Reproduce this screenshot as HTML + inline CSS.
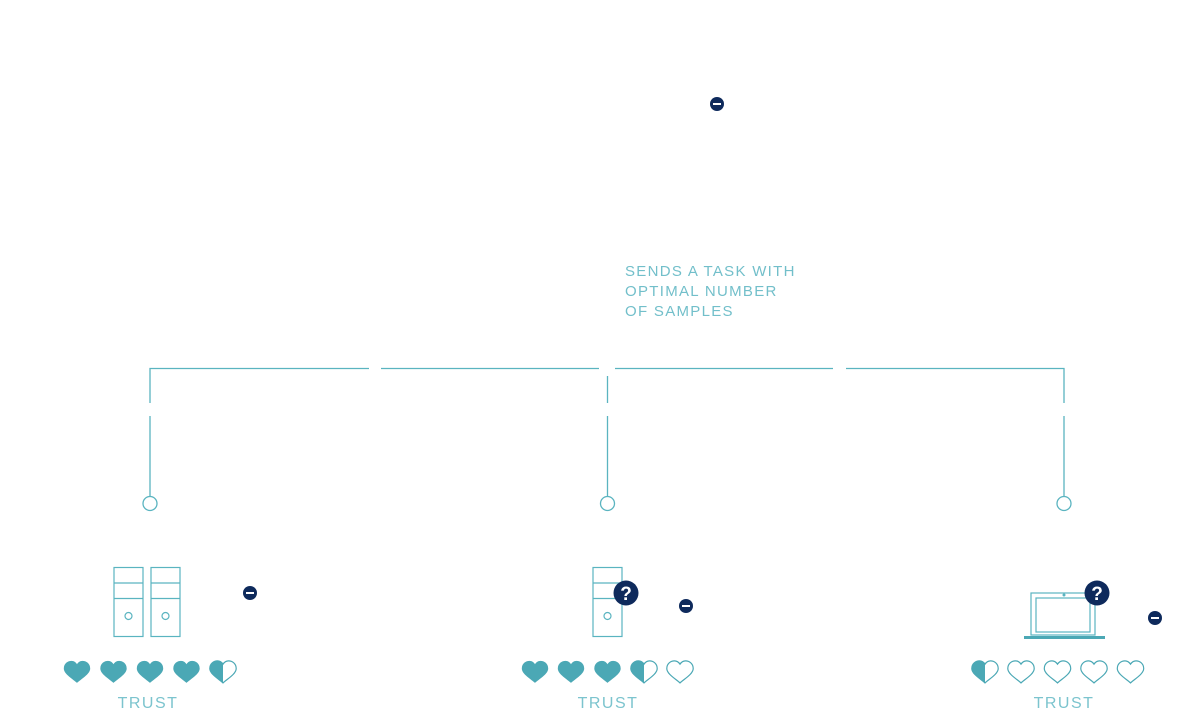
<!DOCTYPE html>
<html><head><meta charset="utf-8"><style>
html,body{margin:0;padding:0;background:#fff;}
svg{display:block}
text{font-family:"Liberation Sans",sans-serif;}
</style></head><body>
<svg width="1200" height="720" viewBox="0 0 1200 720" xmlns="http://www.w3.org/2000/svg">
<defs>
<path id="h" transform="scale(1.1)" d="M0,9 C-3,6 -12,1 -12,-4 C-12,-9 -8,-11 -5,-11 C-2.5,-11 -1,-9.5 0,-8 C1,-9.5 2.5,-11 5,-11 C8,-11 12,-9 12,-4 C12,1 3,6 0,9 Z"/>
<clipPath id="lh"><rect x="-15" y="-14" width="15" height="26"/></clipPath>
<g id="full"><use href="#h" fill="#4ba8b5"/></g>
<g id="empty"><use href="#h" fill="none" stroke="#4ba8b5" stroke-width="1.1"/></g>
<g id="half"><use href="#h" fill="none" stroke="#4ba8b5" stroke-width="1.1"/><use href="#h" fill="#4ba8b5" clip-path="url(#lh)"/></g>
<g id="minus"><circle r="7" fill="#0e2a5c"/><rect x="-4" y="-1" width="8" height="2" fill="#fff"/></g>
<g id="q"><circle r="12.5" fill="#0e2a5c"/><text x="0" y="7" text-anchor="middle" font-size="19" font-weight="bold" fill="#fff">?</text></g>
</defs>

<use href="#minus" x="717" y="104"/>
<g fill="#72bfca" font-size="15" letter-spacing="1.3">
<text x="625" y="276">SENDS A TASK WITH</text>
<text x="625" y="296">OPTIMAL NUMBER</text>
<text x="625" y="316">OF SAMPLES</text>
</g>

<g stroke="#5ab4c0" stroke-width="1.3" fill="none">
<path d="M150,403 V368.5 H369"/>
<path d="M381,368.5 H599"/>
<path d="M615,368.5 H833"/>
<path d="M846,368.5 H1064 V403"/>
<path d="M607.5,376 V403"/>
<path d="M150,416 V496 M607.5,416 V496 M1064,416 V496"/>
<circle cx="150" cy="503.5" r="7" fill="#fff"/>
<circle cx="607.5" cy="503.5" r="7" fill="#fff"/>
<circle cx="1064" cy="503.5" r="7" fill="#fff"/>
</g>

<g stroke="#5ab4c0" stroke-width="1.2" fill="none">
<rect x="114" y="567.5" width="29" height="69"/>
<path d="M114,583 H143 M114,598.5 H143"/>
<circle cx="128.5" cy="616" r="3.5"/>
<rect x="151" y="567.5" width="29" height="69"/>
<path d="M151,583 H180 M151,598.5 H180"/>
<circle cx="165.5" cy="616" r="3.5"/>
<rect x="593" y="567.5" width="29" height="69"/>
<path d="M593,583 H622 M593,598.5 H622"/>
<circle cx="607.5" cy="616" r="3.5"/>
<rect x="1031" y="593" width="64" height="42"/>
<rect x="1036" y="598" width="54" height="34"/>
</g>
<rect x="1024" y="636" width="81" height="3" fill="#4ba8b5"/>
<circle cx="1064" cy="595" r="1.5" fill="#5ab4c0"/>
<use href="#minus" x="250" y="593"/>
<use href="#q" x="626" y="593"/>
<use href="#minus" x="686" y="606"/>
<use href="#q" x="1097" y="593"/>
<use href="#minus" x="1155" y="618"/>

<use href="#full" x="77" y="673"/><use href="#full" x="113.5" y="673"/><use href="#full" x="150" y="673"/><use href="#full" x="186.5" y="673"/><use href="#half" x="223" y="673"/>
<use href="#full" x="535" y="673"/><use href="#full" x="571" y="673"/><use href="#full" x="607.5" y="673"/><use href="#half" x="644" y="673"/><use href="#empty" x="680" y="673"/>
<use href="#half" x="985" y="673"/><use href="#empty" x="1021" y="673"/><use href="#empty" x="1057.5" y="673"/><use href="#empty" x="1094" y="673"/><use href="#empty" x="1130.5" y="673"/>

<g fill="#7cc4ce" font-size="16" letter-spacing="1.5" text-anchor="middle">
<text x="148" y="708">TRUST</text>
<text x="608" y="708">TRUST</text>
<text x="1064" y="708">TRUST</text>
</g>
</svg>
</body></html>
